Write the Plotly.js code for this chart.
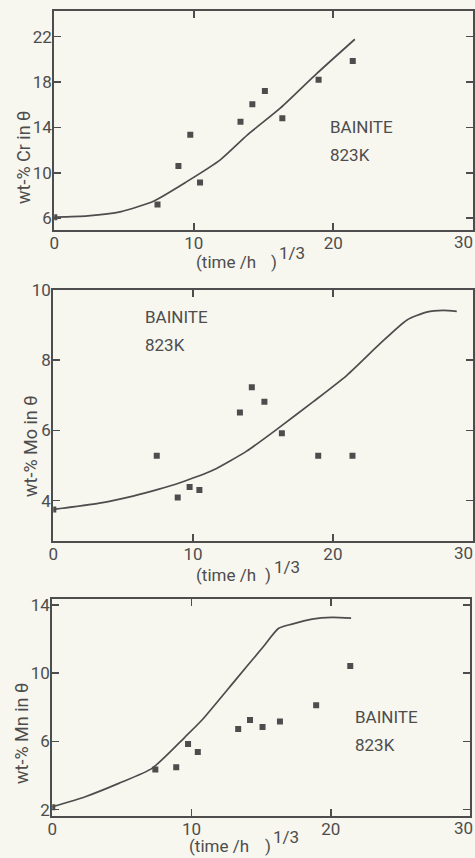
<!DOCTYPE html>
<html>
<head>
<meta charset="utf-8">
<script src="https://cdn.plot.ly/plotly-3.0.1.min.js"></script>
<style>
html,body{margin:0;padding:0;background:#f7f6ef;}
#chart{width:475px;height:858px;}
</style>
</head>
<body>
<div id="chart"></div>
<script>
// measured points: (time/h)^(1/3)
const xTime = [0, 7.4, 8.9, 9.75, 10.45, 13.35, 14.2, 15.1, 16.35, 18.95, 21.4];
const crMeasured = [6.09, 7.2, 10.6, 13.35, 9.15, 14.5, 16.05, 17.2, 14.8, 18.2, 19.85];
const moMeasured = [3.75, 5.28, 4.09, 4.39, 4.3, 6.51, 7.23, 6.82, 5.92, 5.28, 5.28];
const mnMeasured = [2.15, 4.36, 4.48, 5.85, 5.38, 6.72, 7.25, 6.84, 7.17, 8.11, 10.41];

// calculated curves
const crCurveX = [0, 2.4, 4.8, 7.15, 9.5, 11.9, 13.85, 16.2, 18.85, 21.55];
const crCurveY = [6.09, 6.2, 6.58, 7.52, 9.22, 11.14, 13.34, 15.69, 18.78, 21.77];
const moCurveX = [0, 3.3, 5.7, 7.5, 9.06, 11.44, 13.83, 16.22, 18.6, 21.0, 23.37, 25.28, 26.7, 27.9, 28.86];
const moCurveY = [3.75, 3.93, 4.13, 4.32, 4.51, 4.87, 5.41, 6.1, 6.82, 7.57, 8.47, 9.14, 9.37, 9.42, 9.39];
const mnCurveX = [0, 2.37, 4.77, 7.16, 9.55, 10.75, 13.15, 15.06, 16.26, 17.22, 18.66, 20.09, 21.46];
const mnCurveY = [2.17, 2.76, 3.54, 4.42, 6.27, 7.25, 9.59, 11.45, 12.62, 12.87, 13.16, 13.26, 13.22];

// axis tick values and labels (the last x label sits flush against the page edge)
const xTicks = [0, 10, 20, 30];
const xTickText = ['0', '10', '20', ''];
const xLastLabel = '30';
const crTicks = [6, 10, 14, 18, 22];
const moTicks = [4, 6, 8, 10];
const mnTicks = [2, 6, 10, 14];

const yTitles = ['wt-% Cr in θ', 'wt-% Mo in θ', 'wt-% Mn in θ'];
const xTitleParts = ['(time /h', ')', '1/3'];
const noteLines = ['BAINITE', '823K'];

const INK = '#4d4d4d';
const FONT = 'Roboto, "Liberation Sans", sans-serif';
const W = 475, H = 858;
const px = v => v / W;
const py = v => 1 - v / H;

function curve(x, y, xa, ya) {
  return {x: x, y: y, xaxis: xa, yaxis: ya, type: 'scatter', mode: 'lines',
    line: {color: INK, width: 1.7, shape: 'spline', smoothing: 0.6}, hoverinfo: 'skip'};
}
function pts(x, y, xa, ya) {
  return {x: x, y: y, xaxis: xa, yaxis: ya, type: 'scatter', mode: 'markers',
    marker: {symbol: 'square', size: 6, color: INK}, hoverinfo: 'skip'};
}

const data = [
  curve(crCurveX, crCurveY, 'x', 'y'), pts(xTime, crMeasured, 'x', 'y'),
  curve(moCurveX, moCurveY, 'x2', 'y2'), pts(xTime, moMeasured, 'x2', 'y2'),
  curve(mnCurveX, mnCurveY, 'x3', 'y3'), pts(xTime, mnMeasured, 'x3', 'y3')
];

function common(ticks, text) {
  return {tickvals: ticks, ticktext: text || ticks.map(String), ticks: 'inside', ticklen: 7, tickwidth: 1.5,
    tickcolor: INK, showline: true, linecolor: INK, linewidth: 2, mirror: 'ticks',
    showgrid: false, zeroline: false, fixedrange: true, ticklabelstandoff: -3,
    ticklabeloverflow: 'allow',
    tickfont: {family: FONT, size: 17, color: INK}};
}
function xax(l, r, anchor) {
  return Object.assign(common(xTicks, xTickText), {domain: [px(l), px(r)], range: [0, 30], anchor: anchor});
}
function yax(top, bot, range, ticks, anchor) {
  return Object.assign(common(ticks), {domain: [py(bot), py(top)], range: range, anchor: anchor});
}

const ann = [];
function txt(text, x, y, opts) {
  ann.push(Object.assign({text: text, x: px(x), y: py(y), xref: 'paper', yref: 'paper',
    xanchor: 'left', yanchor: 'middle',
    showarrow: false, font: {family: FONT, size: 17, color: INK}}, opts || {}));
}
// last x tick labels, flush right
txt(xLastLabel, 474.5, 242, {xanchor: 'right'});
txt(xLastLabel, 474.5, 553, {xanchor: 'right'});
txt(xLastLabel, 474.5, 828, {xanchor: 'right'});
// y titles
txt(yTitles[0], 24, 158, {textangle: -90, xanchor: 'center', font: {family: FONT, size: 18, color: INK}});
txt(yTitles[1], 30, 446, {textangle: -90, xanchor: 'center', font: {family: FONT, size: 18, color: INK}});
txt(yTitles[2], 21, 734, {textangle: -90, xanchor: 'center', font: {family: FONT, size: 18, color: INK}});
// x titles: "(time /h   )" with superscript 1/3
function xTitle(x0, xParen, xSup, yMain, ySup) {
  txt(xTitleParts[0], x0, yMain);
  txt(xTitleParts[1], xParen, yMain);
  txt(xTitleParts[2], xSup, ySup);
}
xTitle(194, 269, 277, 262, 253);
xTitle(194, 263, 272, 575, 567);
xTitle(187, 263, 271, 846, 837);
// notes
txt(noteLines[0], 328, 127);
txt(noteLines[1], 328, 155);
txt(noteLines[0], 143, 317);
txt(noteLines[1], 143, 345);
txt(noteLines[0], 353, 717);
txt(noteLines[1], 353, 745);

const layout = {
  width: W, height: H,
  margin: {l: 0, r: 0, t: 0, b: 0},
  paper_bgcolor: '#f7f6ef', plot_bgcolor: '#f7f6ef',
  showlegend: false,
  font: {family: FONT, size: 17, color: INK},
  xaxis: xax(54.3, 472.7, 'y'),
  yaxis: yax(11, 229.5, [5.0, 24.26], crTicks, 'x'),
  xaxis2: xax(53.3, 472.7, 'y2'),
  yaxis2: yax(290, 541, [2.85, 10.0], moTicks, 'x2'),
  xaxis3: xax(52.3, 470, 'y3'),
  yaxis3: yax(599.3, 815.5, [1.66, 14.32], mnTicks, 'x3'),
  annotations: ann
};

Plotly.newPlot('chart', data, layout, {staticPlot: true, displayModeBar: false});
</script>
</body>
</html>
